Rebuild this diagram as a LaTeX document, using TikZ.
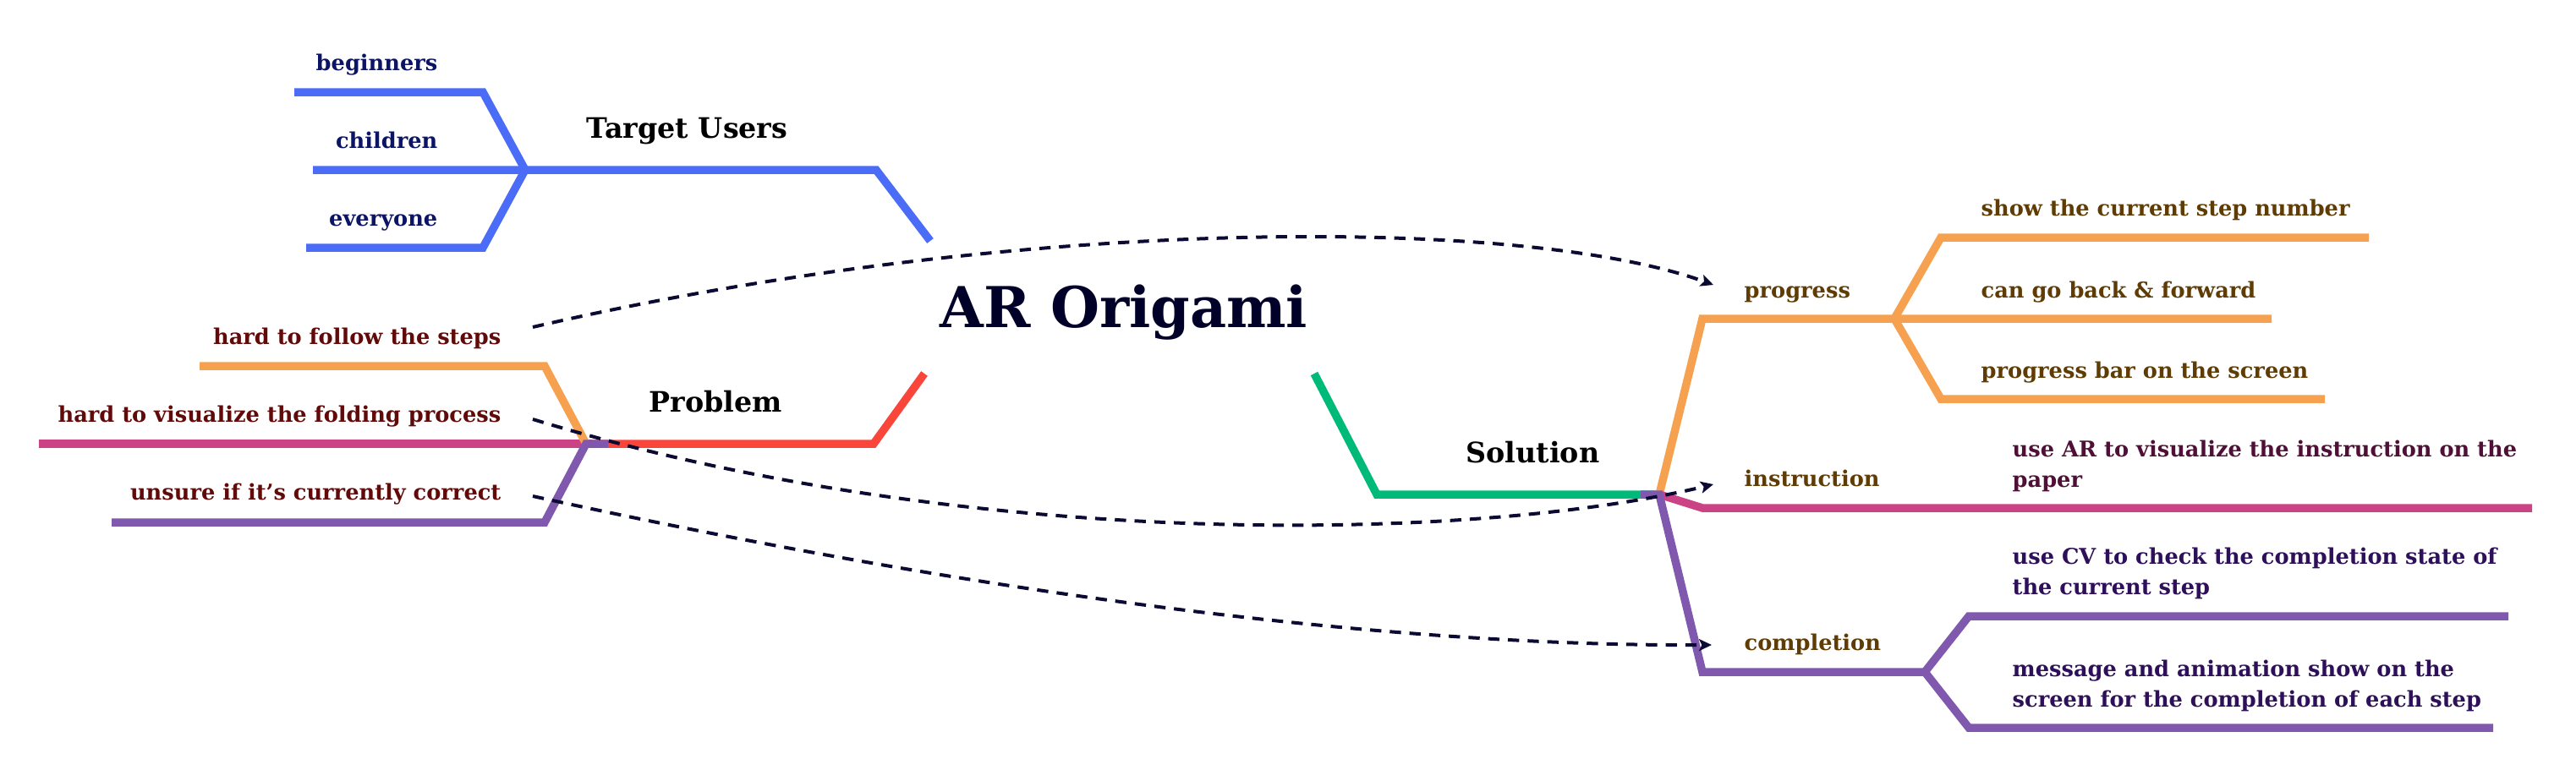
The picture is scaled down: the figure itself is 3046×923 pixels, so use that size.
\documentclass[tikz,border=0pt]{standalone}
\usepackage{fontspec}
\setmainfont{DejaVu Serif}
\usetikzlibrary{arrows.meta}
\definecolor{tublue}{RGB}{74,108,247}
\definecolor{tuorange}{RGB}{245,161,79}
\definecolor{tumagenta}{RGB}{204,67,133}
\definecolor{tupurple}{RGB}{128,89,174}
\definecolor{tured}{RGB}{249,69,58}
\definecolor{tugreen}{RGB}{0,186,122}
\definecolor{navytxt}{RGB}{12,20,100}
\definecolor{redtxt}{RGB}{96,10,10}
\definecolor{browntxt}{RGB}{96,60,5}
\definecolor{plumtxt}{RGB}{80,15,55}
\definecolor{violettxt}{RGB}{45,15,90}
\definecolor{titletxt}{RGB}{0,0,40}
\definecolor{dashcol}{RGB}{10,10,50}

\begin{document}
\begin{tikzpicture}[
    x=0.3pt, y=-0.3pt,
    branch/.style={line width=2.85pt, line join=miter},
    leaf/.style={inner sep=0pt, font=\fontsize{7.7}{10.8}\selectfont\bfseries},
    topic/.style={inner sep=0pt, font=\fontsize{10}{12}\selectfont\bfseries, black},
    link/.style={dashcol, line width=1.2pt, dash pattern=on 4pt off 3pt,
                 -{Stealth[length=4.5pt, width=4.2pt, inset=1pt]}}
]
\useasboundingbox (0,0) rectangle (3046,923);

% ---------- Target Users ----------
\draw[branch, tublue] (1100,285) -- (1036,201) -- (370,201);
\draw[branch, tublue] (348,109) -- (571,109) -- (621,201);
\draw[branch, tublue] (362,293) -- (571,293) -- (621,201);
\node[topic, anchor=base west] (tu) at (693,163) {Target Users};
\node[leaf, navytxt, anchor=base east] (beg) at (518,83)  {beginners};
\node[leaf, navytxt, anchor=base east] (chi) at (518,175) {children};
\node[leaf, navytxt, anchor=base east] (eve) at (518,267) {everyone};

% ---------- Problem ----------
\draw[branch, tured] (1093,442) -- (1033,525) -- (700,525);
\draw[branch, tumagenta] (46,525) -- (700,525);
\draw[branch, tuorange] (236,433) -- (644,433) -- (693,525);
\draw[branch, tupurple] (132,618) -- (644,618) -- (693,525) -- (719,525);
\node[topic, anchor=base west] (prob) at (767,487) {Problem};
\node[leaf, redtxt, anchor=base east] (st1) at (593,407) {hard to follow the steps};
\node[leaf, redtxt, anchor=base east] (st2) at (593,499) {hard to visualize the folding process};
\node[leaf, redtxt, anchor=base east] (st3) at (593,591) {unsure if it's currently correct};

% ---------- Solution ----------
\draw[branch, tugreen] (1554,442) -- (1628,585) -- (1962,585);
\draw[branch, tuorange] (1962,585) -- (2013,377) -- (2686,377);
\draw[branch, tuorange] (2240,377) -- (2295,281) -- (2801,281);
\draw[branch, tuorange] (2240,377) -- (2295,472) -- (2749,472);
\draw[branch, tumagenta] (1962,585) -- (2013,601) -- (2994,601);
\draw[branch, tupurple] (1940,585) -- (1962,585) -- (2013,795) -- (2276,795);
\draw[branch, tupurple] (2276,795) -- (2328,729) -- (2966,729);
\draw[branch, tupurple] (2276,795) -- (2328,861) -- (2948,861);
\node[topic, anchor=base west] (sol) at (1733,547) {Solution};
\node[leaf, browntxt, anchor=base west] (prog)  at (2062,352) {progress};
\node[leaf, browntxt, anchor=base west] (instr) at (2062,575) {instruction};
\node[leaf, browntxt, anchor=base west] (compl) at (2062,769) {completion};
\node[leaf, browntxt, anchor=base west] (pg1) at (2342,255) {show the current step number};
\node[leaf, browntxt, anchor=base west] (pg2) at (2342,352) {can go back \& forward};
\node[leaf, browntxt, anchor=base west] (pg3) at (2342,447) {progress bar on the screen};
\node[leaf, plumtxt, anchor=north west, align=left] (in1) at (2379,520)
      {use AR to visualize the instruction on the\\paper};
\node[leaf, violettxt, anchor=north west, align=left] (co1) at (2379,647)
      {use CV to check the completion state of\\the current step};
\node[leaf, violettxt, anchor=north west, align=left] (co2) at (2379,780)
      {message and animation show on the\\screen for the completion of each step};

% ---------- title ----------
\node[inner sep=0pt, titletxt, font=\fontsize{20}{24}\selectfont\bfseries,
      anchor=base] (title) at (1329,387) {AR Origami};

% ---------- links ----------
\draw[link] ([shift={(37,-20)}]st1.base east)
      .. controls (1200,255) and (1800,255) .. ([shift={(-36,-15)}]prog.base west);
\draw[link] ([shift={(37,-3)}]st2.base east)
      .. controls (1150,655) and (1750,640) .. ([shift={(-36,-2)}]instr.base west);
\draw[link] ([shift={(37,-4)}]st3.base east)
      .. controls (1100,690) and (1600,765) .. ([shift={(-38,-6)}]compl.base west);

\end{tikzpicture}
\end{document}
